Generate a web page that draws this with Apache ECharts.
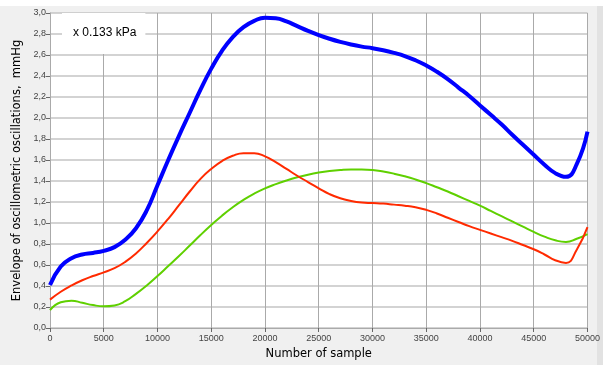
<!DOCTYPE html>
<html>
<head>
<meta charset="utf-8">
<script src="https://cdn.jsdelivr.net/npm/echarts@6/dist/echarts.min.js"></script>
<style>
  html, body { margin: 0; padding: 0; background: #f0f0f0; }
  #chart { width: 603px; height: 365px; }
</style>
</head>
<body>
<div id="chart"></div>
<script>
// sample numbers (x), one reading every 1000 samples
const samples = [0, 1000, 2000, 3000, 4000, 5000, 6000, 7000, 8000, 9000,
  10000, 11000, 12000, 13000, 14000, 15000, 16000, 17000, 18000, 19000,
  20000, 21000, 22000, 23000, 24000, 25000, 26000, 27000, 28000, 29000,
  30000, 31000, 32000, 33000, 34000, 35000, 36000, 37000, 38000, 39000,
  40000, 41000, 42000, 43000, 44000, 45000, 46000, 47000, 48000, 49000, 50000];

// envelope values, mmHg
const blueValues = [0.41, 0.585, 0.665, 0.70, 0.715, 0.735, 0.77, 0.84, 0.95, 1.12,
  1.36, 1.60, 1.83, 2.05, 2.27, 2.47, 2.64, 2.77, 2.865, 2.925,
  2.955, 2.95, 2.92, 2.875, 2.83, 2.79, 2.755, 2.725, 2.70, 2.68,
  2.665, 2.645, 2.62, 2.59, 2.55, 2.50, 2.44, 2.37, 2.29, 2.21,
  2.12, 2.03, 1.94, 1.84, 1.745, 1.65, 1.555, 1.475, 1.44, 1.56, 1.87];
const redValues = [0.27, 0.345, 0.405, 0.455, 0.495, 0.53, 0.57, 0.63, 0.71, 0.81,
  0.92, 1.04, 1.17, 1.30, 1.42, 1.515, 1.59, 1.64, 1.665, 1.665,
  1.635, 1.58, 1.515, 1.45, 1.39, 1.33, 1.275, 1.235, 1.21, 1.195,
  1.19, 1.185, 1.175, 1.165, 1.15, 1.125, 1.09, 1.05, 1.01, 0.97,
  0.935, 0.90, 0.865, 0.83, 0.79, 0.75, 0.70, 0.645, 0.62, 0.745, 0.96];
const greenValues = [0.17, 0.245, 0.26, 0.24, 0.218, 0.207, 0.215, 0.255, 0.325, 0.405,
  0.495, 0.59, 0.685, 0.785, 0.885, 0.98, 1.07, 1.15, 1.22, 1.28,
  1.33, 1.37, 1.405, 1.435, 1.46, 1.48, 1.495, 1.505, 1.51, 1.51,
  1.505, 1.49, 1.47, 1.445, 1.415, 1.38, 1.34, 1.30, 1.255, 1.21,
  1.165, 1.115, 1.065, 1.015, 0.965, 0.915, 0.87, 0.835, 0.82, 0.85, 0.895];

const unitLabel = 'x 0.133 kPa';
const xName = 'Number of sample';
const yName = 'Envelope of oscillometric oscillations,  mmHg';

const chart = echarts.init(document.getElementById('chart'));

const pairs = vals => samples.map((s, i) => [s, vals[i]]);

const option = {
  backgroundColor: '#f0f0f0',
  animation: false,
  textStyle: { fontFamily: 'DejaVu Sans' },
  title: {
    text: unitLabel,
    left: 62,
    top: 13,
    padding: [14, 9, 15, 11],
    backgroundColor: '#fff',
    textStyle: { fontFamily: 'Liberation Sans', fontSize: 12, fontWeight: 'normal', color: '#000' }
  },
  graphic: [
    { type: 'rect', left: 0, top: 0, shape: { width: 603, height: 6 }, style: { fill: '#fff' } },
    { type: 'rect', left: 597, top: 6, shape: { width: 6, height: 359 }, style: { fill: '#e2e2e2' } }
  ],
  grid: {
    left: 50,
    right: 13,
    top: 13,
    bottom: 35,
    show: true,
    backgroundColor: '#fff',
    borderWidth: 0
  },
  xAxis: {
    type: 'value',
    min: 0,
    max: 50000,
    interval: 5000,
    name: xName,
    nameLocation: 'middle',
    nameGap: 20,
    nameTextStyle: { fontSize: 11.5, color: '#000' },
    axisLine: { show: true, lineStyle: { color: '#aaa' } },
    axisTick: { show: true, length: 4, lineStyle: { color: '#666' } },
    axisLabel: { fontFamily: 'Liberation Sans', fontSize: 9, color: '#444', margin: 6, formatter: v => String(v) },
    splitLine: { show: true, lineStyle: { color: '#aaa', width: 1 } }
  },
  yAxis: {
    type: 'value',
    min: 0,
    max: 3,
    interval: 0.2,
    name: yName,
    nameLocation: 'middle',
    nameGap: 18,
    nameTextStyle: { fontSize: 11.5, color: '#000' },
    axisLine: { show: true, lineStyle: { color: '#aaa' } },
    axisTick: { show: true, length: 4, lineStyle: { color: '#666' } },
    axisLabel: {
      fontFamily: 'Liberation Sans',
      fontSize: 9,
      color: '#444',
      margin: 4,
      formatter: v => v.toFixed(1).replace('.', ',')
    },
    splitLine: { show: true, lineStyle: { color: '#c4c4c4', width: 1.5 } }
  },
  series: [
    {
      type: 'line', data: pairs(greenValues), smooth: true, showSymbol: false,
      lineStyle: { color: '#5fd000', width: 2 }
    },
    {
      type: 'line', data: pairs(redValues), smooth: true, showSymbol: false,
      lineStyle: { color: '#ff2a00', width: 2 }
    },
    {
      type: 'line', data: pairs(blueValues), smooth: true, showSymbol: false,
      lineStyle: { color: '#0000ff', width: 4 }
    }
  ]
};

chart.setOption(option);
</script>
</body>
</html>
